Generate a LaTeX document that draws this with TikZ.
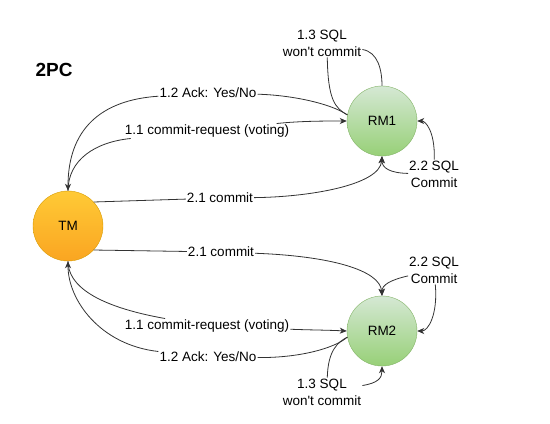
\documentclass[tikz,border=0pt]{standalone}
\usepackage{fontspec}
\setmainfont{Liberation Sans}
\usepackage{tikz}
\usetikzlibrary{arrows.meta,positioning}
\definecolor{tmfilltop}{HTML}{FFCA36}
\definecolor{tmfillbot}{HTML}{FAA521}
\definecolor{tmborder}{HTML}{D79B00}
\definecolor{rmfilltop}{HTML}{D5E8D4}
\definecolor{rmfillbot}{HTML}{97D077}
\definecolor{rmborder}{HTML}{82B366}
\definecolor{linkcol}{HTML}{333333}
\tikzset{
  party/.style={circle, minimum size=70bp, inner sep=0pt, font=\fontsize{13.5bp}{16bp}\selectfont},
  tmnode/.style={party, draw=tmborder, top color=tmfilltop, bottom color=tmfillbot},
  rmnode/.style={party, draw=rmborder, top color=rmfilltop, bottom color=rmfillbot},
  msg/.style={fill=white, inner sep=1bp, align=center, font=\fontsize{13.5bp}{17bp}\selectfont},
}

\begin{document}
\begin{tikzpicture}[
        x=1bp, y=-1bp,
        link/.style={draw=linkcol, line width=0.8bp},
        arrow/.style={link, -{Stealth[length=7bp,width=6bp,inset=2bp]}},
        title/.style={font=\fontsize{19bp}{22bp}\selectfont\bfseries}
    ]
    \useasboundingbox (0,0) rectangle (550,423);

    % Title
    \node[title] (head) at (54,70) {2PC};

    % Coordinator and resource managers
    \node[tmnode] (tm) at (68,226) {TM};
    \node[rmnode] (rm1) at (382,121) {RM1};
    \node[rmnode] (rm2) at (382,331) {RM2};

    % Messages to RM1
    \node[msg] (ack1) at (208,93) {1.2 Ack: Yes/No};
    \node[msg] (req1) at (207,131) {1.1 commit-request (voting)};
    \node[msg] (commit1) at (220,198) {2.1 commit};
    \node[msg] (wont1) at (322,43) {1.3 SQL\\won\textquotesingle t commit};
    \node[msg] (sqlc1) at (434,174) {2.2 SQL\\Commit};

    % Messages to RM2
    \node[msg] (commit2) at (221,252) {2.1 commit};
    \node[msg] (req2) at (207,326) {1.1 commit-request (voting)};
    \node[msg] (ack2) at (208,357) {1.2 Ack: Yes/No};
    \node[msg] (wont2) at (322,392) {1.3 SQL\\won\textquotesingle t commit};
    \node[msg] (sqlc2) at (434,270) {2.2 SQL\\Commit};

    % Voting phase, RM1
    \draw[link] (tm.north) .. controls (68,160) and (95,142) .. (req1);
    \draw[arrow] (req1) .. controls (300,121) and (325,121) .. (rm1.west);
    \draw[link] (rm1.170) .. controls (330,103) and (290,95) .. (ack1);
    \draw[arrow] (ack1) .. controls (100,100) and (68,130) .. (tm.north);
    \draw[link] (wont1) .. controls (378,52) and (382,70) .. (rm1.north);
    \draw[link] (wont1.290) .. controls (328,100) and (335,108) .. (rm1.170);

    % Commit phase, RM1
    \draw[link] (tm.43) -- (commit1);
    \draw[arrow] (commit1) .. controls (310,197) and (380,185) .. (rm1.south);
    \draw[arrow] (sqlc1) .. controls (390,173) and (382,168) .. (rm1.south);
    \draw[arrow] (sqlc1) .. controls (435,130) and (425,121) .. (rm1.east);

    % Commit phase, RM2
    \draw[link] (tm.-43) -- (commit2);
    \draw[arrow] (commit2) .. controls (330,256) and (380,270) .. (rm2.north);
    \draw[arrow] (sqlc2) .. controls (390,280) and (382,285) .. (rm2.north);
    \draw[arrow] (sqlc2) .. controls (438,315) and (428,331) .. (rm2.east);

    % Voting phase, RM2
    \draw[arrow] (req2) .. controls (310,330) and (325,330) .. (rm2.west);
    \draw[link] (req2) .. controls (95,306) and (68,285) .. (tm.south);
    \draw[link] (rm2.190) .. controls (335,348) and (300,358) .. (ack2);
    \draw[arrow] (ack2) .. controls (100,345) and (68,300) .. (tm.south);
    \draw[arrow] (wont2) .. controls (378,383) and (382,378) .. (rm2.south);
    \draw[link] (wont2.70) .. controls (328,350) and (338,342) .. (rm2.190);

\end{tikzpicture}
\end{document}
